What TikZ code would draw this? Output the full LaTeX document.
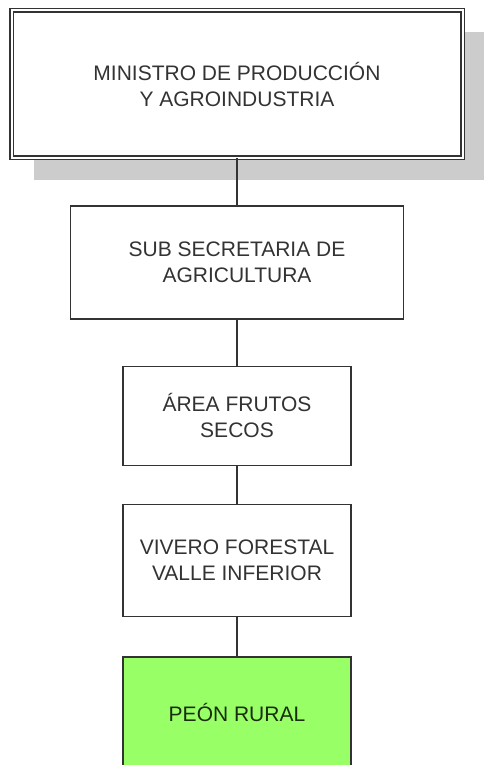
\documentclass[tikz,border=0pt]{standalone}
\usepackage{fontspec}
\setmainfont{Liberation Sans}
\usepackage{tikz}
\usetikzlibrary{positioning,shadows}
\definecolor{boxline}{RGB}{51,51,51}
\definecolor{peongreen}{RGB}{153,255,102}
\definecolor{peontext}{RGB}{25,45,15}

\begin{document}
\begin{tikzpicture}[x=1pt,y=1pt,line width=1.4pt,
  box/.style={rectangle,draw=boxline,fill=white,text=boxline,align=center,inner sep=0pt,
    font=\fontsize{21}{26}\selectfont,minimum width=228pt}]

  \useasboundingbox (0,0) rectangle (483,-765);

  \node[box,double,double distance=2pt,line width=1.5pt,minimum width=451pt,minimum height=147pt,
    drop shadow={shadow xshift=22pt,shadow yshift=-22pt,fill=black!20,opacity=1}]
    (min) at (237,-84) {MINISTRO DE PRODUCCIÓN\\Y AGROINDUSTRIA};
  \node[box,minimum width=333pt,minimum height=113pt] (sub) [below=47pt of min] {SUB SECRETARIA DE\\AGRICULTURA};
  \node[box,minimum height=99pt] (area) [below=46pt of sub] {ÁREA FRUTOS\\SECOS};
  \node[box,minimum height=112pt] (vivero) [below=38pt of area] {VIVERO FORESTAL\\VALLE INFERIOR};
  \node[box,fill=peongreen,text=peontext,minimum height=111pt] (peon) [below=39pt of vivero] {PEÓN RURAL};

  \path[draw=boxline]
    (min) edge (sub)
    (sub) edge (area)
    (area) edge (vivero)
    (vivero) edge (peon);
\end{tikzpicture}
\end{document}
